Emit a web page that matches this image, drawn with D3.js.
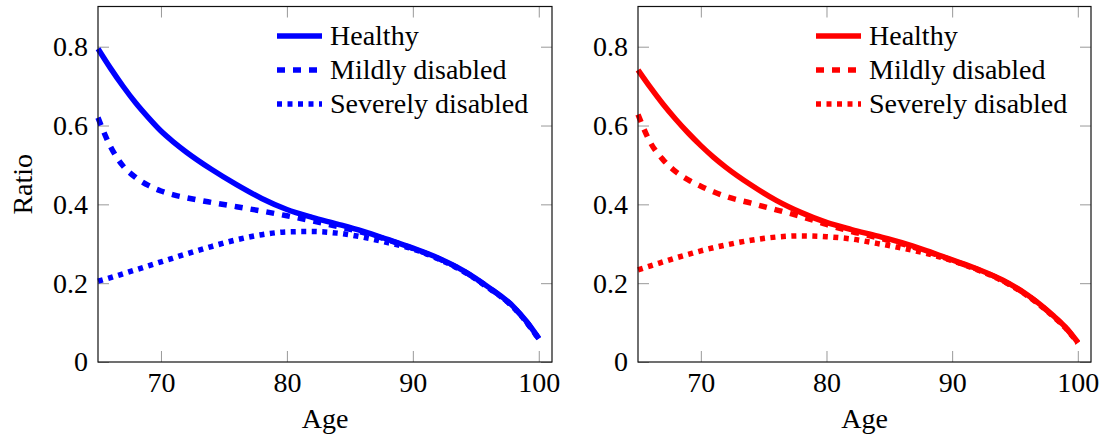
<!DOCTYPE html>
<html>
<head>
<meta charset="utf-8">
<script src="https://cdn.jsdelivr.net/npm/d3@7"></script>
<style>
  body { margin: 0; background: #fff; }
  svg { display: block; }
  svg text { font-family: "Liberation Serif", "Times New Roman", serif !important; }
</style>
</head>
<body>
<div id="chart"></div>
<script>
const ages = [65, 66, 67, 68, 69, 70, 71, 72, 74, 76, 78, 80, 82, 84, 86, 88, 90, 92, 94, 96, 98, 99, 100]

// left panel (blue)
const leftHealthy = [0.795, 0.745, 0.699, 0.657, 0.620, 0.586, 0.558, 0.533, 0.489, 0.450, 0.415, 0.387, 0.367, 0.350, 0.332, 0.311, 0.289, 0.264, 0.232, 0.190, 0.140, 0.104, 0.060]
const leftMild = [0.620, 0.546, 0.497, 0.468, 0.448, 0.434, 0.424, 0.417, 0.405, 0.394, 0.383, 0.371, 0.358, 0.344, 0.329, 0.310, 0.288, 0.263, 0.231, 0.189, 0.139, 0.103, 0.059]
const leftSevere = [0.205, 0.214, 0.224, 0.234, 0.244, 0.254, 0.264, 0.274, 0.293, 0.310, 0.323, 0.330, 0.331, 0.327, 0.317, 0.303, 0.287, 0.262, 0.230, 0.188, 0.138, 0.102, 0.058]

// right panel (red)
const rightHealthy = [0.741, 0.696, 0.654, 0.616, 0.581, 0.549, 0.520, 0.494, 0.449, 0.410, 0.379, 0.354, 0.336, 0.320, 0.303, 0.282, 0.259, 0.236, 0.208, 0.170, 0.119, 0.089, 0.050]
const rightMild = [0.628, 0.556, 0.513, 0.483, 0.462, 0.446, 0.432, 0.420, 0.403, 0.386, 0.369, 0.349, 0.331, 0.316, 0.300, 0.280, 0.258, 0.235, 0.207, 0.169, 0.118, 0.088, 0.049]
const rightSevere = [0.234, 0.244, 0.254, 0.264, 0.273, 0.282, 0.290, 0.297, 0.309, 0.317, 0.320, 0.318, 0.312, 0.301, 0.289, 0.275, 0.257, 0.234, 0.206, 0.168, 0.117, 0.087, 0.048]

const seriesNames = ['Healthy', 'Mildly disabled', 'Severely disabled']
const xTicks = [70, 80, 90, 100]
const yTicks = [0, 0.2, 0.4, 0.6, 0.8]

const width = 1101
const height = 436
const fontSize = 28
const fontFamily = '"Liberation Serif", "Times New Roman", serif'

const svg = d3.select('#chart')
  .append('svg')
  .attr('width', width)
  .attr('height', height)

svg.append('rect').attr('width', width).attr('height', height).attr('fill', '#fff')

const dashes = [null, '8,8', '5,5.5']

function drawPanel (left, right, color, data, showYLabel) {
  const top = 6.5
  const bottom = 362
  const x = d3.scaleLinear().domain([65, 101.05]).range([left, right])
  const y = d3.scaleLinear().domain([0, 0.902]).range([bottom, top])
  const g = svg.append('g').style('font-family', fontFamily)

  const styleAxis = sel => {
    sel.attr('font-family', null)
    sel.select('.domain').remove()
    sel.selectAll('.tick line').attr('stroke', '#999').attr('stroke-width', 1)
    sel.selectAll('.tick text')
      .attr('font-size', fontSize)
      .attr('fill', '#000')
      .style('font-family', fontFamily)
  }

  g.append('g')
    .attr('transform', `translate(0,${bottom})`)
    .call(d3.axisBottom(x).tickValues(xTicks).tickSize(-11).tickPadding(10))
    .call(styleAxis)
  g.append('g')
    .attr('transform', `translate(0,${top})`)
    .call(d3.axisTop(x).tickValues(xTicks).tickSize(-11).tickFormat(''))
    .call(styleAxis)
  g.append('g')
    .attr('transform', `translate(${left},0)`)
    .call(d3.axisLeft(y).tickValues(yTicks).tickSize(-11).tickPadding(10).tickFormat(d => d === 0 ? '0' : d3.format('.1f')(d)))
    .call(styleAxis)
  g.append('g')
    .attr('transform', `translate(${right},0)`)
    .call(d3.axisRight(y).tickValues(yTicks).tickSize(-11).tickFormat(''))
    .call(styleAxis)

  const line = d3.line()
    .x((d, i) => x(ages[i]))
    .y(d => y(d))
    .curve(d3.curveMonotoneX)

  data.forEach((vals, k) => {
    g.append('path')
      .datum(vals)
      .attr('d', line)
      .attr('fill', 'none')
      .attr('stroke', color)
      .attr('stroke-width', 5.5)
      .attr('stroke-dasharray', dashes[k])
  })

  g.append('rect')
    .attr('x', left)
    .attr('y', top)
    .attr('width', right - left)
    .attr('height', bottom - top)
    .attr('fill', 'none')
    .attr('stroke', '#111')
    .attr('stroke-width', 1.2)

  // legend
  const lx = right - 275
  seriesNames.forEach((name, k) => {
    const ly = 36 + k * 34
    g.append('line')
      .attr('x1', lx).attr('x2', lx + 45)
      .attr('y1', ly).attr('y2', ly)
      .attr('stroke', color)
      .attr('stroke-width', 5.5)
      .attr('stroke-dasharray', dashes[k])
    g.append('text')
      .attr('x', lx + 53)
      .attr('y', ly + 9)
      .attr('font-size', fontSize)
      .text(name)
  })

  g.append('text')
    .attr('x', (left + right) / 2)
    .attr('y', 428)
    .attr('text-anchor', 'middle')
    .attr('font-size', fontSize)
    .text('Age')

  if (showYLabel) {
    g.append('text')
      .attr('transform', `translate(32,${(top + bottom) / 2}) rotate(-90)`)
      .attr('text-anchor', 'middle')
      .attr('font-size', fontSize)
      .text('Ratio')
  }
}

drawPanel(98, 552, '#0000ff', [leftHealthy, leftMild, leftSevere], true)
drawPanel(638, 1091, '#ff0000', [rightHealthy, rightMild, rightSevere], false)
</script>
</body>
</html>
